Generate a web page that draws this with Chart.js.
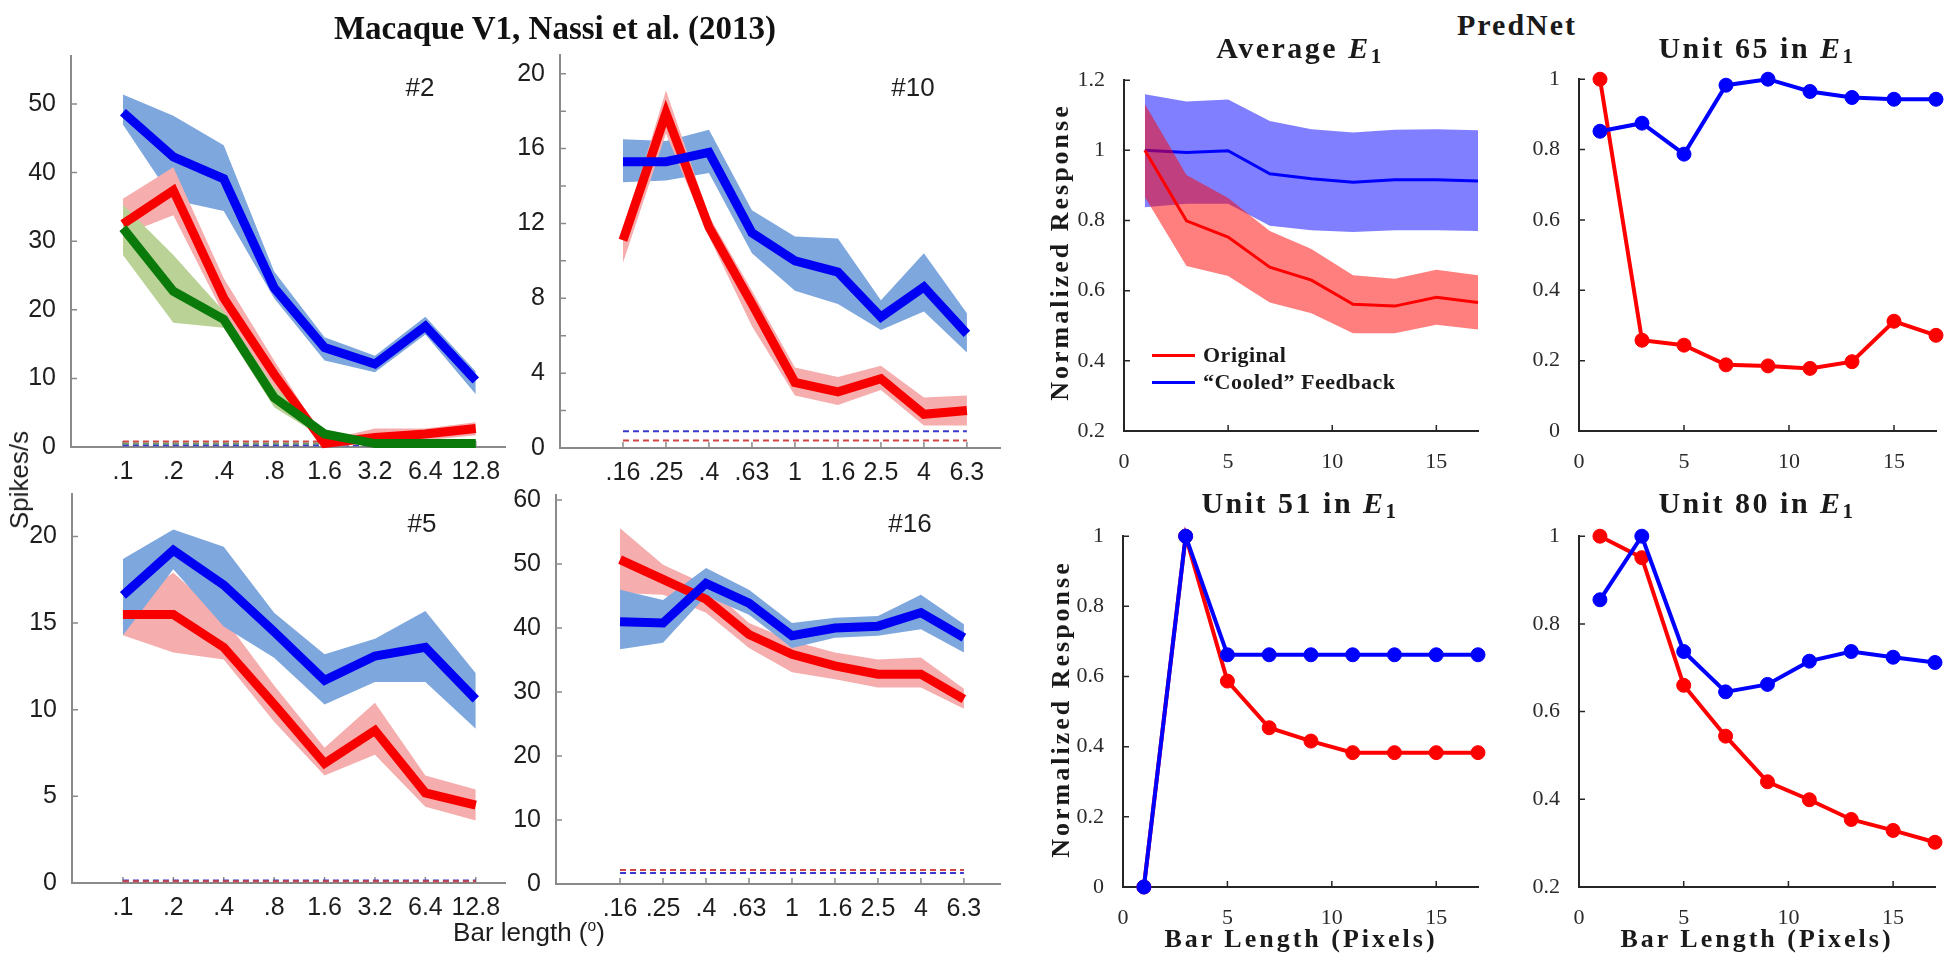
<!DOCTYPE html>
<html><head><meta charset="utf-8">
<script src="https://cdn.jsdelivr.net/npm/chart.js@4.4.0/dist/chart.umd.min.js"></script>
<style>
html,body{margin:0;padding:0;background:#fff;width:1950px;height:961px;overflow:hidden;position:relative;}
canvas{position:absolute;}
.t{position:absolute;white-space:nowrap;line-height:1;}
.serif{font-family:"Liberation Serif","Times New Roman",serif;font-weight:bold;color:#1a1a1a;}
.sans{font-family:"Liberation Sans",Arial,sans-serif;color:#1e1e1e;}
.t sub{font-size:70%;vertical-align:-0.22em;line-height:0;}
.lg{position:absolute;height:3px;}
</style></head><body>
<script>
// ---------------- DATA ----------------
const catsA = ['.1','.2','.4','.8','1.6','3.2','6.4','12.8'];
const catsB = ['.16','.25','.4','.63','1','1.6','2.5','4','6.3'];

// Cell #2
const n2Blue    = [48.8, 42.3, 39.1, 23.2, 14.5, 12.1, 17.6, 9.7];
const n2BlueHi  = [51.4, 48.3, 44.0, 25.6, 16.0, 13.3, 19.0, 11.0];
const n2BlueLo  = [47.0, 36.0, 34.4, 21.7, 12.6, 10.9, 16.4, 7.7];
const n2Red     = [32.5, 37.4, 21.7, 10.6, 0.5, 1.4, 1.9, 2.7];
const n2RedHi   = [36.2, 40.8, 24.6, 12.6, 1.0, 2.7, 2.7, 3.6];
const n2RedLo   = [30.9, 33.8, 19.3, 8.7, 0.0, 0.5, 1.0, 1.7];
const n2Green   = [31.9, 22.7, 18.6, 7.2, 1.9, 0.5, 0.5, 0.5];
const n2GreenHi = [35.3, 28.0, 19.8, 8.7, 2.3, 0.8, 0.8, 0.8];
const n2GreenLo = [28.0, 18.1, 17.4, 5.8, 1.2, 0.2, 0.2, 0.2];
const n2Base    = {red: 0.8, green: 0.5, blue: 0.25};
const n2Ticks   = [0, 10, 20, 30, 40, 50];

// Cell #10
const n10Blue   = [15.3, 15.3, 15.8, 11.5, 10.0, 9.4, 7.0, 8.6, 6.1];
const n10BlueHi = [16.5, 16.4, 17.0, 12.7, 11.3, 11.2, 7.9, 10.4, 7.2];
const n10BlueLo = [14.2, 14.3, 14.7, 10.4, 8.4, 7.7, 6.3, 7.3, 5.1];
const n10Red    = [11.1, 17.9, 11.8, 7.7, 3.5, 3.0, 3.7, 1.8, 2.0];
const n10RedHi  = [11.5, 19.1, 12.4, 8.4, 4.3, 3.8, 4.4, 2.7, 2.8];
const n10RedLo  = [9.9, 16.8, 11.3, 6.5, 2.8, 2.3, 3.1, 1.2, 1.2];
const n10Base   = {red: 0.4, blue: 0.9};
const n10Ticks  = [0, 2, 4, 6, 8, 10, 12, 14, 16, 18, 20];

// Cell #5
const n5Blue    = [16.6, 19.2, 17.2, 14.5, 11.7, 13.1, 13.6, 10.6];
const n5BlueHi  = [18.7, 20.4, 19.4, 15.6, 13.2, 14.1, 15.7, 12.1];
const n5BlueLo  = [14.3, 18.1, 14.8, 13.0, 10.3, 11.6, 11.6, 8.9];
const n5Red     = [15.5, 15.5, 13.6, 10.3, 6.9, 8.8, 5.2, 4.5];
const n5RedHi   = [16.0, 17.9, 15.3, 11.4, 7.8, 10.4, 6.2, 5.4];
const n5RedLo   = [14.3, 13.3, 12.9, 9.3, 6.2, 7.4, 4.4, 3.6];
const n5Base    = {red: 0.1, blue: 0.15};
const n5Ticks   = [0, 5, 10, 15, 20];

// Cell #16
const n16Blue   = [41.0, 40.8, 47.0, 43.9, 38.8, 40.0, 40.3, 42.4, 38.5];
const n16BlueHi = [46.0, 44.4, 49.4, 46.0, 40.8, 41.6, 41.9, 45.2, 40.6];
const n16BlueLo = [36.7, 37.7, 45.0, 42.1, 36.9, 38.5, 38.8, 39.8, 36.2];
const n16Red    = [50.7, 47.6, 44.5, 39.0, 35.9, 34.1, 32.8, 32.8, 28.9];
const n16RedHi  = [55.6, 49.9, 46.8, 40.8, 38.0, 36.2, 35.1, 35.4, 30.5];
const n16RedLo  = [45.5, 45.2, 42.4, 36.9, 33.1, 32.0, 30.7, 30.7, 27.4];
const n16Base   = {red: 2.2, blue: 1.7};
const n16Ticks  = [0, 10, 20, 30, 40, 50, 60];

// PredNet
const pix       = [1, 3, 5, 7, 9, 11, 13, 15, 17];
const avgRed    = [1.0, 0.799, 0.753, 0.667, 0.63, 0.561, 0.556, 0.581, 0.566];
const avgRedHi  = [1.132, 0.93, 0.864, 0.77, 0.719, 0.644, 0.634, 0.66, 0.644];
const avgRedLo  = [0.867, 0.67, 0.642, 0.566, 0.536, 0.479, 0.479, 0.503, 0.489];
const avgBlue   = [1.0, 0.994, 0.999, 0.933, 0.919, 0.909, 0.916, 0.916, 0.913];
const avgBlueHi = [1.16, 1.139, 1.145, 1.084, 1.06, 1.051, 1.059, 1.06, 1.057];
const avgBlueLo = [0.838, 0.848, 0.848, 0.785, 0.772, 0.767, 0.772, 0.772, 0.77];
const u65Red    = [1.0, 0.258, 0.244, 0.188, 0.185, 0.178, 0.197, 0.312, 0.272];
const u65Blue   = [0.852, 0.875, 0.787, 0.983, 1.0, 0.965, 0.948, 0.943, 0.943];
const u51Red    = [0, 1.0, 0.587, 0.454, 0.416, 0.383, 0.383, 0.383, 0.383];
const u51Blue   = [0, 1.0, 0.662, 0.662, 0.662, 0.662, 0.662, 0.662, 0.662];
const u80Red    = [1.0, 0.951, 0.66, 0.544, 0.44, 0.399, 0.354, 0.329, 0.302];
const u80Blue   = [0.855, 1.0, 0.737, 0.645, 0.662, 0.715, 0.737, 0.724, 0.712];
const pxTicks   = [0, 5, 10, 15];
const yTicks02  = [0.2, 0.4, 0.6, 0.8, 1.0, 1.2];
const yTicks0   = [0, 0.2, 0.4, 0.6, 0.8, 1.0];
const yTicks08  = [0.2, 0.4, 0.6, 0.8, 1.0];

// ---------------- STYLE ----------------
const C = {
  blueLine:'#0000f2', blueBand:'#7ea7de', redLine:'#f80000', redBand:'#f6adad',
  greenLine:'#0a7a0a', greenBand:'#bad296',
  dashBlue:'#3a3ad0', dashRed:'#d04545', dashGreen:'#6f9a60',
  pRed:'#ff0000', pBlue:'#0000ff', pRedBand:'rgba(255,0,0,0.5)', pBlueBand:'rgba(0,0,255,0.5)'
};

const innerTicks = {
  id:'innerTicks',
  beforeDatasetsDraw(chart, args, o){
    const {ctx, chartArea:a, scales:{x, y}} = chart;
    ctx.save(); ctx.strokeStyle=o.color; ctx.lineWidth=o.width;
    ctx.beginPath();
    x.ticks.forEach(t=>{const p=x.getPixelForValue(t.value); ctx.moveTo(p,a.bottom); ctx.lineTo(p,a.bottom-o.len);});
    y.ticks.forEach(t=>{const p=y.getPixelForValue(t.value); ctx.moveTo(a.left,p); ctx.lineTo(a.left+o.len,p);});
    ctx.stroke(); ctx.restore();
  }
};

const idx = n => Array.from({length:n}, (_, i) => i);
const pts = (xs, ys) => ys.map((v, i) => ({x: xs[i], y: v}));

function addBand(ds, xs, hi, lo, color, order){
  const i = ds.length;
  ds.push({data:pts(xs,hi), borderColor:'transparent', borderWidth:1, pointRadius:0, backgroundColor:color, fill:i+1, order});
  ds.push({data:pts(xs,lo), borderColor:'transparent', borderWidth:1, pointRadius:0, fill:false, order});
}
function addLine(ds, xs, ys, color, width, order, radius){
  ds.push({data:pts(xs,ys), borderColor:color, backgroundColor:color, borderWidth:width, fill:false, order,
    pointRadius:radius||0, pointBackgroundColor:color, pointBorderColor:color, pointBorderWidth:1, clip:false});
}
function addDash(ds, n, y, color, order){
  ds.push({data:[{x:0,y},{x:n-1,y}], borderColor:color, borderWidth:2, borderDash:[6,4], pointRadius:0, fill:false, order, clip:false});
}

function makeChart(box, datasets, sc){
  const P=20, WY=70, HX=44;
  const c = document.createElement('canvas');
  const w = box.R - box.L + WY + 2*P, h = box.B - box.T + HX + 2*P;
  c.width = w; c.height = h;
  c.style.left = (box.L - WY - P) + 'px'; c.style.top = (box.T - P) + 'px';
  c.style.width = w + 'px'; c.style.height = h + 'px';
  document.body.appendChild(c);
  const tickFont = sc.serif ? {family:'"Liberation Serif", serif', size:22} : {family:'"Liberation Sans", Arial, sans-serif', size:25};
  new Chart(c, {
    type:'line',
    data:{datasets},
    options:{
      responsive:false, animation:false, devicePixelRatio:1,
      layout:{padding:P},
      elements:{line:{tension:0, borderJoinStyle:'miter'}},
      plugins:{legend:{display:false}, tooltip:{enabled:false}, innerTicks:{color:sc.axisColor, len:6, width:1.5}},
      scales:{
        x:{type:'linear', min:sc.xmin, max:sc.xmax,
          afterBuildTicks:s=>{s.ticks = sc.xticks.map(v=>({value:v}));},
          afterFit:s=>{s.height = HX;},
          grid:{display:false}, border:{display:true, color:sc.axisColor, width:2},
          ticks:{autoSkip:false, maxRotation:0, minRotation:0, padding:sc.xpad, font:tickFont, color:sc.tickColor,
            callback:v=> sc.xlabels ? sc.xlabels[v] : String(v)}},
        y:{type:'linear', min:sc.ymin, max:sc.ymax,
          afterBuildTicks:s=>{s.ticks = sc.yticks.map(v=>({value:v}));},
          afterFit:s=>{s.width = WY;},
          grid:{display:false}, border:{display:true, color:sc.axisColor, width:2},
          ticks:{autoSkip:false, padding:sc.ypad, font:tickFont, color:sc.tickColor, callback:sc.yfmt}}
      }
    },
    plugins:[innerTicks]
  });
}

const leftStyle = {axisColor:'#8a8a8a', tickColor:'#1e1e1e', xpad:2, ypad:7, serif:false, yfmt:v=>String(v)};
const rightStyle = {axisColor:'#262626', tickColor:'#2a2a2a', xpad:10, ypad:11, serif:true, yfmt:v=>String(Math.round(v*10)/10)};

// #2
(function(){
  const xs = idx(catsA.length), ds = [];
  addDash(ds, 8, n2Base.red, C.dashRed, 20); addDash(ds, 8, n2Base.green, C.dashGreen, 20); addDash(ds, 8, n2Base.blue, C.dashBlue, 20);
  addBand(ds, xs, n2BlueHi, n2BlueLo, C.blueBand, 12);
  addBand(ds, xs, n2RedHi, n2RedLo, C.redBand, 11);
  addBand(ds, xs, n2GreenHi, n2GreenLo, C.greenBand, 10);
  addLine(ds, xs, n2Red, C.redLine, 9, 3);
  addLine(ds, xs, n2Blue, C.blueLine, 9, 2);
  addLine(ds, xs, n2Green, C.greenLine, 9, 1);
  makeChart({L:71,T:54,R:505,B:447}, ds, Object.assign({}, leftStyle, {xmin:-1.03, xmax:7.58, xticks:xs, xlabels:catsA, ymin:0, ymax:57, yticks:n2Ticks}));
})();
// #10
(function(){
  const xs = idx(catsB.length), ds = [];
  addDash(ds, 9, n10Base.red, C.dashRed, 20); addDash(ds, 9, n10Base.blue, C.dashBlue, 20);
  addBand(ds, xs, n10BlueHi, n10BlueLo, C.blueBand, 12);
  addBand(ds, xs, n10RedHi, n10RedLo, C.redBand, 11);
  addLine(ds, xs, n10Red, C.redLine, 9, 3);
  addLine(ds, xs, n10Blue, C.blueLine, 9, 2);
  makeChart({L:560,T:53,R:1000,B:448}, ds, Object.assign({}, leftStyle, {xmin:-1.465, xmax:8.77, xticks:xs, xlabels:catsB, ymin:0, ymax:21, yticks:n10Ticks,
    yfmt:v=> v % 4 === 0 ? String(v) : ''}));
})();
// #5
(function(){
  const xs = idx(catsA.length), ds = [];
  addDash(ds, 8, n5Base.red, C.dashRed, 20); addDash(ds, 8, n5Base.blue, C.dashBlue, 20);
  addBand(ds, xs, n5RedHi, n5RedLo, C.redBand, 12);
  addBand(ds, xs, n5BlueHi, n5BlueLo, C.blueBand, 11);
  addLine(ds, xs, n5Red, C.redLine, 9, 3);
  addLine(ds, xs, n5Blue, C.blueLine, 9, 2);
  makeChart({L:72,T:492,R:505,B:883}, ds, Object.assign({}, leftStyle, {xmin:-1.01, xmax:7.58, xticks:xs, xlabels:catsA, ymin:0, ymax:22.45, yticks:n5Ticks}));
})();
// #16
(function(){
  const xs = idx(catsB.length), ds = [];
  addDash(ds, 9, n16Base.red, C.dashRed, 20); addDash(ds, 9, n16Base.blue, C.dashBlue, 20);
  addBand(ds, xs, n16RedHi, n16RedLo, C.redBand, 12);
  addBand(ds, xs, n16BlueHi, n16BlueLo, C.blueBand, 11);
  addLine(ds, xs, n16Red, C.redLine, 9, 3);
  addLine(ds, xs, n16Blue, C.blueLine, 9, 2);
  makeChart({L:556,T:493,R:1000,B:884}, ds, Object.assign({}, leftStyle, {xmin:-1.49, xmax:8.84, xticks:xs, xlabels:catsB, ymin:0, ymax:60.8, yticks:n16Ticks}));
})();
// Average E1
(function(){
  const ds = [];
  addBand(ds, pix, avgBlueHi, avgBlueLo, C.pBlueBand, 4);
  addLine(ds, pix, avgBlue, C.pBlue, 3, 3);
  addBand(ds, pix, avgRedHi, avgRedLo, C.pRedBand, 2);
  addLine(ds, pix, avgRed, C.pRed, 3, 1);
  makeChart({L:1124,T:76,R:1478,B:431}, ds, Object.assign({}, rightStyle, {xmin:0, xmax:17, xticks:pxTicks, ymin:0.2, ymax:1.2, yticks:yTicks02}));
})();
// Unit 65
(function(){
  const ds = [];
  addLine(ds, pix, u65Red, C.pRed, 4, 2, 7);
  addLine(ds, pix, u65Blue, C.pBlue, 4, 1, 7);
  makeChart({L:1579,T:75,R:1936,B:431}, ds, Object.assign({}, rightStyle, {xmin:0, xmax:17, xticks:pxTicks, ymin:0, ymax:1, yticks:yTicks0}));
})();
// Unit 51
(function(){
  const ds = [];
  addLine(ds, pix, u51Red, C.pRed, 4, 2, 7);
  addLine(ds, pix, u51Blue, C.pBlue, 4, 1, 7);
  makeChart({L:1123,T:532,R:1478,B:887}, ds, Object.assign({}, rightStyle, {xmin:0, xmax:17, xticks:pxTicks, ymin:0, ymax:1, yticks:yTicks0}));
})();
// Unit 80
(function(){
  const ds = [];
  addLine(ds, pix, u80Red, C.pRed, 4, 2, 7);
  addLine(ds, pix, u80Blue, C.pBlue, 4, 1, 7);
  makeChart({L:1579,T:532,R:1935,B:887}, ds, Object.assign({}, rightStyle, {xmin:0, xmax:17, xticks:pxTicks, ymin:0.2, ymax:1, yticks:yTicks08}));
})();

// ---------------- TEXT ----------------
function txt(html, cls, size, cx, baseline, extra){
  const d = document.createElement('div');
  d.className = 't ' + cls; d.innerHTML = html;
  d.style.fontSize = size + 'px';
  d.style.left = cx + 'px'; d.style.top = (baseline - 0.84*size) + 'px';
  d.style.transform = 'translateX(-50%)';
  if (extra) Object.assign(d.style, extra);
  document.body.appendChild(d);
}
function vtxt(html, cls, size, cx, cy, extra){
  const d = document.createElement('div');
  d.className = 't ' + cls; d.innerHTML = html;
  d.style.fontSize = size + 'px';
  d.style.left = cx + 'px'; d.style.top = cy + 'px';
  d.style.transform = 'translate(-50%,-50%) rotate(-90deg)';
  if (extra) Object.assign(d.style, extra);
  document.body.appendChild(d);
}
txt('Macaque V1, Nassi et al. (2013)', 'serif', 33, 555, 40, {color:'#111'});
txt('#2', 'sans', 26, 420, 96); txt('#10', 'sans', 26, 913, 96);
txt('#5', 'sans', 26, 422, 532); txt('#16', 'sans', 26, 910, 532);
vtxt('Spikes/s', 'sans', 26, 19, 480);
txt('Bar length (<sup style="font-size:60%">o</sup>)', 'sans', 26, 529, 940);

txt('PredNet', 'serif', 30, 1517, 35, {letterSpacing:'2px'});
const ls = {letterSpacing:'2.5px'};
txt('Average <i>E</i><sub>1</sub>', 'serif', 30, 1300, 58, ls);
txt('Unit 65 in <i>E</i><sub>1</sub>', 'serif', 30, 1757, 58, ls);
txt('Unit 51 in <i>E</i><sub>1</sub>', 'serif', 30, 1300, 513, ls);
txt('Unit 80 in <i>E</i><sub>1</sub>', 'serif', 30, 1757, 513, ls);
const ls3 = {letterSpacing:'3px'};
vtxt('Normalized Response', 'serif', 26, 1060, 252, ls3);
vtxt('Normalized Response', 'serif', 26, 1061, 709, ls3);
txt('Bar Length (Pixels)', 'serif', 26, 1301, 948, ls3);
txt('Bar Length (Pixels)', 'serif', 26, 1757, 948, ls3);

// legend (Average E1)
function lg(y, color, label){
  const l = document.createElement('div'); l.className = 'lg';
  l.style.left = '1152px'; l.style.width = '43px'; l.style.top = (y-1.5)+'px'; l.style.background = color;
  document.body.appendChild(l);
  const d = document.createElement('div'); d.className = 't serif'; d.innerHTML = label;
  d.style.fontSize = '22px'; d.style.left = '1203px'; d.style.top = (y - 11) + 'px'; d.style.letterSpacing = '0.5px';
  document.body.appendChild(d);
}
lg(355, C.pRed, 'Original');
lg(382, C.pBlue, '“Cooled” Feedback');
</script>
</body></html>
